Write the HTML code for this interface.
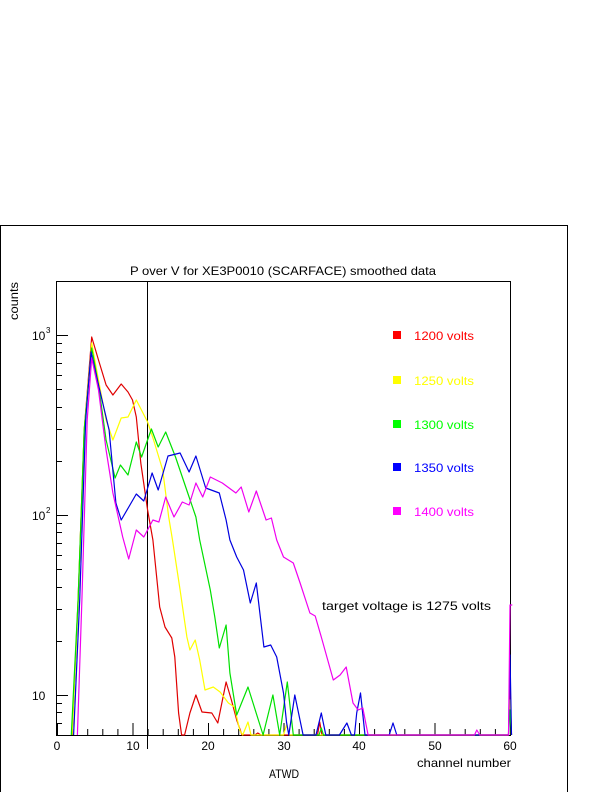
<!DOCTYPE html>
<html><head><meta charset="utf-8"><style>
html,body{margin:0;padding:0;background:#fff;}
svg{display:block;font-family:"Liberation Sans",sans-serif;}
</style></head><body>
<svg id="s" width="612" height="792" xmlns="http://www.w3.org/2000/svg">
<rect x="0.5" y="225.5" width="567" height="580" fill="none" stroke="#000"/>
<rect x="56.5" y="281.5" width="454" height="454" fill="none" stroke="#000"/>
<line x1="147.5" y1="281" x2="147.5" y2="749" stroke="#000"/>
<text x="130" y="275" font-size="12" textLength="306" lengthAdjust="spacingAndGlyphs">P over V for XE3P0010  (SCARFACE)  smoothed data</text>
<text transform="translate(18,320) rotate(-90)" font-size="12" textLength="38" lengthAdjust="spacingAndGlyphs">counts</text>
<text x="32" y="340" font-size="12">10</text><text x="46" y="333" font-size="8">3</text>
<text x="32" y="520" font-size="12">10</text><text x="46" y="513" font-size="8">2</text>
<text x="32" y="700" font-size="12">10</text>
<g font-size="12" text-anchor="middle">
<text x="57" y="750">0</text><text x="133" y="750">10</text><text x="208" y="750">20</text>
<text x="284" y="750">30</text><text x="359" y="750">40</text><text x="435" y="750">50</text><text x="510" y="750">60</text>
</g>
<text x="417" y="767" font-size="12" textLength="94" lengthAdjust="spacingAndGlyphs">channel number</text>
<text x="269" y="778" font-size="12" textLength="30" lengthAdjust="spacingAndGlyphs">ATWD</text>
<g id="ticks" stroke="#000"></g>
<g font-size="12">
<rect x="393" y="331" width="8" height="8" fill="#f00"/><text x="414" y="340" fill="#f00" textLength="60" lengthAdjust="spacingAndGlyphs">1200 volts</text>
<rect x="393" y="376" width="8" height="8" fill="#ff0"/><text x="414" y="385" fill="#ff0" textLength="60" lengthAdjust="spacingAndGlyphs">1250 volts</text>
<rect x="393" y="420" width="8" height="8" fill="#0f0"/><text x="414" y="429" fill="#0f0" textLength="60" lengthAdjust="spacingAndGlyphs">1300 volts</text>
<rect x="393" y="463" width="8" height="8" fill="#00f"/><text x="414" y="472" fill="#00f" textLength="60" lengthAdjust="spacingAndGlyphs">1350 volts</text>
<rect x="393" y="507" width="8" height="8" fill="#f0f"/><text x="414" y="516" fill="#f0f" textLength="60" lengthAdjust="spacingAndGlyphs">1400 volts</text>
</g>
<text x="322" y="610" font-size="12" textLength="169" lengthAdjust="spacingAndGlyphs">target voltage is 1275 volts</text>
<g id="curves" fill="none" stroke-width="1.2"></g>
</svg>
<script>
function X(c){return 57+c*7.55;}
function yv(v){return 695-180*(Math.log10(v)-1);}
var t=document.getElementById('ticks'),h='';
for(var c=0;c<=60;c+=2){var L=(c%10==0)?12:6;h+='<line x1="'+(X(c)+0.5)+'" y1="735" x2="'+(X(c)+0.5)+'" y2="'+(735-L)+'"/>';}
for(var d=0;d<4;d++)for(var m=1;m<=9;m++){var v=m*Math.pow(10,d);var y=yv(v);if(y<281||y>735)continue;var L=(m==1)?12:6;h+='<line x1="56" y1="'+(Math.round(y)+0.5)+'" x2="'+(56+L)+'" y2="'+(Math.round(y)+0.5)+'"/>';}
t.innerHTML=h;
var D={
"#e00000":[[2,735],[2.8,600],[3.6,430],[4.6,337],[5.5,360],[6.5,385],[7.4,395],[8.5,384],[9.4,392],[10,400],[10.5,417],[11.1,463],[12,510],[12.7,540],[13.6,607],[14.3,627],[15.2,638],[15.6,657],[16.1,713],[16.5,735],[16.9,735],[17.6,713],[18.4,695],[19.2,712],[20.5,713],[21.3,723],[22.4,682],[23.1,700],[23.8,720],[24.5,735],[26.2,735],[26.6,733],[27,735],[34.5,735],[34.8,722],[35.1,735],[59.8,735],[60,690],[60.2,735]],
"#ffff00":[[2,735],[2.8,600],[3.6,430],[4.6,343],[5.5,380],[6.5,420],[7.4,440],[8.5,418],[9.4,417],[10.5,400],[12,422],[12.8,440],[14,470],[14.8,517],[15.3,540],[16.3,590],[17.2,637],[17.6,650],[18.3,640],[18.9,660],[19.6,690],[20.7,687],[21.6,692],[22.7,703],[23.5,707],[24.2,730],[24.6,735],[25.3,722],[25.7,735],[30,735],[30.4,725],[30.8,735],[59.8,735],[60,700],[60.2,735]],
"#00e000":[[1.9,735],[2.8,600],[3.6,430],[4.6,348],[5.5,385],[6.5,440],[7.7,478],[8.4,465],[9.4,475],[10.5,442],[11.2,457],[12.5,429],[13.4,447],[14.4,432],[15.7,457],[17.5,497],[18.4,517],[18.9,540],[20.3,590],[20.9,617],[21.5,648],[22.4,625],[22.9,673],[23.8,715],[25.3,687],[27.3,735],[28.6,695],[29.5,735],[30.5,682],[31.3,735],[34.7,735],[35,728],[35.3,735],[59.8,735],[60,710],[60.2,735]],
"#0000e0":[[2.2,735],[3,600],[3.8,420],[4.5,352],[5.5,385],[6.9,430],[7.8,503],[8.5,520],[10.5,494],[11.5,501],[12.6,473],[13.4,490],[14.7,456],[16.3,453],[17.5,472],[18.4,456],[19.7,488],[21.5,493],[22.4,520],[22.9,540],[23.8,557],[24.7,570],[25.6,603],[26.4,583],[27.4,647],[28.3,645],[29.1,657],[30,693],[30.4,722],[30.7,735],[31.5,695],[32.6,735],[34.3,735],[35,713],[35.6,735],[37.4,735],[38.4,723],[39,735],[39.4,735],[39.7,713],[40.2,693],[40.8,735],[44,735],[44.5,723],[45,735],[59.8,735],[60,655],[60.2,735]],
"#f000f0":[[2.7,735],[3.3,600],[4,420],[4.6,358],[5.5,390],[6.5,450],[7.4,493],[8.7,537],[9.5,559],[10.5,530],[11.5,537],[12.7,520],[13.5,522],[14.4,497],[15.5,517],[16.6,502],[17.5,505],[18.4,483],[19.3,497],[20.3,477],[21.9,483],[23.7,493],[24.4,487],[25.4,512],[26.4,491],[27.7,520],[28.4,518],[29.1,540],[30,557],[31.3,563],[32.2,583],[33.5,613],[34.2,616],[35,637],[36.6,680],[37.5,675],[38.3,667],[39.2,703],[39.9,710],[40.5,708],[41.2,735],[55.3,735],[55.6,730],[56,735],[59.8,735],[60,605],[60.3,605]]
};
var g=document.getElementById('curves'),s='';
for(var k in D){var p=D[k].map(function(a){return X(a[0]).toFixed(1)+','+a[1];}).join(' ');s+='<polyline stroke="'+k+'" points="'+p+'" stroke-linejoin="round"/>';}
g.innerHTML=s;
</script>
</body></html>
